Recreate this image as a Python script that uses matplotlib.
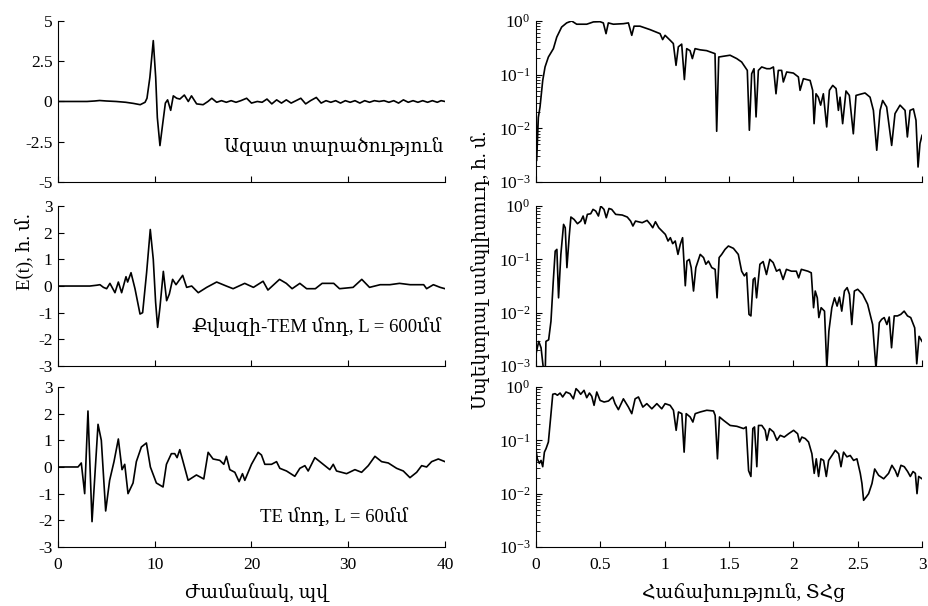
import matplotlib
matplotlib.use("Agg")
from matplotlib import pyplot as plt

plt.rcParams['font.family'] = ['Liberation Serif', 'DejaVu Serif', 'DejaVu Sans']
plt.rcParams['mathtext.fontset'] = 'stix'
plt.rcParams['axes.unicode_minus'] = False

# --- time domain, ps ---
t_free = [0, 3.0, 3.8, 4.3, 5.0, 6.0, 7.0, 7.8, 8.5, 9.0,
          9.2, 9.5, 9.85, 10.1, 10.27, 10.54, 10.8, 11.1, 11.33, 11.65,
          11.92, 12.27, 12.6, 13.06, 13.47, 13.8, 14.33, 15.0, 15.5, 15.9,
          16.4, 16.9, 17.4, 17.9, 18.4, 18.9, 19.5, 20.0, 20.6, 21.1,
          21.6, 22.1, 22.6, 23.1, 23.6, 24.1, 24.6, 25.1, 25.6, 26.1,
          26.7, 27.2, 27.7, 28.2, 28.7, 29.2, 29.7, 30.2, 30.7, 31.2,
          31.7, 32.2, 32.7, 33.2, 33.7, 34.2, 34.7, 35.2, 35.7, 36.2,
          36.7, 37.2, 37.7, 38.2, 38.7, 39.2, 39.6, 40]
e_free = [0, 0, 0.03, 0.06, 0.03, 0, -0.05, -0.12, -0.2, -0.05,
          0.2, 1.5, 3.78, 1.5, -1.0, -2.74, -1.5, -0.1, 0.1, -0.55,
          0.35, 0.2, 0.15, 0.4, 0.0, 0.35, -0.15, -0.2, 0.0, 0.2,
          -0.05, 0.05, -0.05, 0.05, -0.05, 0.05, 0.2, -0.1, 0.0, -0.05,
          0.15, -0.15, 0.1, -0.1, 0.1, -0.1, 0.05, 0.2, -0.15, 0.05,
          0.25, -0.1, 0.05, -0.05, 0.05, -0.1, 0.05, -0.05, 0.05, -0.1,
          0.05, -0.05, 0.05, 0.0, 0.05, -0.05, 0.05, -0.1, 0.1, -0.05,
          0.05, -0.05, 0.05, -0.05, 0.05, -0.05, 0.05, 0.0]

t_tem = [0, 3.3, 4.0, 4.34, 4.7, 5.03, 5.37, 5.89, 6.24, 6.58,
         7.03, 7.2, 7.55, 7.96, 8.48, 8.75, 9.16, 9.54, 9.85, 10.09,
         10.3, 10.54, 10.89, 11.23, 11.51, 11.85, 12.2, 12.89, 13.3, 13.82,
         14.5, 15.37, 16.4, 17.4, 18.1, 19.3, 20.2, 21.2, 21.7, 22.9,
         23.6, 24.2, 25.0, 25.7, 26.6, 27.3, 28.5, 29.1, 30.5, 31.4,
         32.2, 33.3, 34.3, 35.3, 36.4, 37.8, 38.1, 38.8, 39.5, 40]
e_tem = [0, 0, 0.03, 0.05, -0.05, -0.1, 0.1, -0.25, 0.15, -0.25,
         0.35, 0.15, 0.5, -0.1, -1.05, -1.0, 0.5, 2.12, 1.0, -0.6,
         -1.55, -0.8, 0.55, -0.55, -0.3, 0.25, 0.05, 0.4, -0.05, 0.0,
         -0.25, -0.05, 0.15, 0.0, -0.1, 0.1, -0.05, 0.18, -0.15, 0.25,
         0.1, -0.1, 0.1, -0.1, -0.1, 0.1, 0.1, -0.1, -0.05, 0.25,
         -0.05, 0.05, 0.05, 0.1, 0.05, 0.05, -0.1, 0.05, -0.05, -0.1]

t_te = [0, 2.07, 2.41, 2.76, 3.1, 3.52, 4.14, 4.48, 4.93, 5.34,
        5.79, 6.24, 6.62, 6.9, 7.24, 7.76, 8.1, 8.62, 9.14, 9.55,
        10.17, 10.86, 11.21, 11.72, 12.07, 12.31, 12.59, 12.93, 13.45, 14.31,
        15.07, 15.52, 16.03, 16.72, 17.14, 17.41, 17.76, 18.28, 18.72, 19.07,
        19.31, 20.0, 20.69, 21.03, 21.38, 22.07, 22.59, 22.93, 23.62, 24.48,
        25.0, 25.52, 25.86, 26.55, 27.24, 28.1, 28.45, 28.79, 29.83, 30.69,
        31.38, 32.07, 32.76, 33.45, 34.14, 35.0, 35.69, 36.38, 37.07, 37.59,
        38.1, 38.62, 39.31, 40]
e_te = [0, 0, 0.15, -1.0, 2.1, -2.05, 1.6, 1.0, -1.65, -0.5,
        0.2, 1.05, -0.1, 0.1, -1.0, -0.6, 0.2, 0.75, 0.9, 0.0,
        -0.6, -0.75, 0.1, 0.5, 0.5, 0.35, 0.65, 0.2, -0.5, -0.3,
        -0.45, 0.55, 0.3, 0.25, 0.1, 0.4, -0.1, -0.2, -0.55, -0.25,
        -0.5, 0.1, 0.55, 0.45, 0.1, 0.1, 0.2, -0.05, -0.15, -0.35,
        -0.05, 0.05, -0.15, 0.35, 0.15, -0.1, 0.1, -0.15, -0.25, -0.1,
        -0.2, 0.05, 0.4, 0.2, 0.15, -0.05, -0.15, -0.4, -0.2, 0.05,
        0.0, 0.2, 0.3, 0.2]

# --- spectra, THz ---
f_free = [0, 0.005, 0.018, 0.031, 0.052, 0.07, 0.096, 0.135, 0.161, 0.199,
          0.238, 0.277, 0.316, 0.394, 0.446, 0.497, 0.523, 0.544, 0.562, 0.601,
          0.679, 0.718, 0.744, 0.762, 0.808, 0.886, 0.964, 0.984, 1.003, 1.041,
          1.067, 1.088, 1.106, 1.132, 1.153, 1.171, 1.197, 1.215, 1.236, 1.275,
          1.326, 1.391, 1.404, 1.42, 1.456, 1.508, 1.56, 1.598, 1.624, 1.642,
          1.658, 1.676, 1.694, 1.71, 1.728, 1.754, 1.793, 1.819, 1.845, 1.865,
          1.883, 1.909, 1.922, 1.948, 2.0, 2.039, 2.052, 2.078, 2.13, 2.15,
          2.161, 2.176, 2.194, 2.212, 2.233, 2.259, 2.28, 2.306, 2.332, 2.35,
          2.363, 2.383, 2.409, 2.435, 2.466, 2.487, 2.518, 2.557, 2.596, 2.622,
          2.648, 2.674, 2.694, 2.725, 2.764, 2.79, 2.829, 2.868, 2.886, 2.907,
          2.933, 2.953, 2.969, 2.984, 3.0]
a_free = [0.033, 0.0025, 0.016, 0.025, 0.078, 0.139, 0.213, 0.305, 0.50, 0.77,
          0.92, 1.0, 0.87, 0.87, 0.96, 0.97, 0.92, 0.58, 0.92, 0.87,
          0.89, 0.92, 0.54, 0.80, 0.80, 0.69, 0.58, 0.45, 0.54, 0.44,
          0.38, 0.149, 0.33, 0.37, 0.081, 0.305, 0.28, 0.199, 0.305, 0.29,
          0.28, 0.246, 0.0088, 0.213, 0.22, 0.23, 0.199, 0.172, 0.139, 0.12,
          0.0092, 0.104, 0.129, 0.0163, 0.12, 0.139, 0.129, 0.129, 0.139, 0.044,
          0.12, 0.12, 0.073, 0.112, 0.107, 0.0905, 0.051, 0.084, 0.078, 0.051,
          0.0122, 0.044, 0.038, 0.027, 0.044, 0.0106, 0.051, 0.063, 0.055, 0.0216,
          0.038, 0.0122, 0.0496, 0.041, 0.0079, 0.041, 0.043, 0.0455, 0.038, 0.0216,
          0.0039, 0.0216, 0.033, 0.025, 0.0048, 0.0188, 0.027, 0.0216, 0.0069, 0.0216,
          0.023, 0.0141, 0.0019, 0.0052, 0.0074]

f_tem = [0, 0.021, 0.039, 0.057, 0.072, 0.077, 0.098, 0.116, 0.134, 0.149,
         0.162, 0.175, 0.193, 0.214, 0.227, 0.24, 0.258, 0.271, 0.296, 0.322,
         0.348, 0.366, 0.381, 0.399, 0.425, 0.443, 0.464, 0.485, 0.503, 0.528,
         0.546, 0.567, 0.588, 0.619, 0.67, 0.709, 0.735, 0.753, 0.773, 0.825,
         0.863, 0.889, 0.907, 0.928, 0.954, 0.979, 1.005, 1.026, 1.044, 1.062,
         1.082, 1.103, 1.121, 1.139, 1.16, 1.173, 1.191, 1.206, 1.224, 1.242,
         1.276, 1.302, 1.32, 1.34, 1.366, 1.392, 1.407, 1.423, 1.443, 1.469,
         1.495, 1.534, 1.572, 1.598, 1.619, 1.637, 1.655, 1.67, 1.688, 1.701,
         1.714, 1.74, 1.765, 1.791, 1.817, 1.843, 1.869, 1.894, 1.92, 1.946,
         1.985, 2.023, 2.041, 2.062, 2.113, 2.139, 2.157, 2.17, 2.186, 2.198,
         2.216, 2.242, 2.26, 2.276, 2.299, 2.32, 2.34, 2.358, 2.376, 2.397,
         2.418, 2.436, 2.454, 2.474, 2.5, 2.539, 2.577, 2.616, 2.642, 2.668,
         2.686, 2.706, 2.727, 2.745, 2.763, 2.784, 2.809, 2.835, 2.861, 2.887,
         2.912, 2.943, 2.959, 2.977, 3.0]
a_tem = [0.0017, 0.0029, 0.0022, 0.0009, 0.0009, 0.0029, 0.0031, 0.0069, 0.039, 0.143,
         0.154, 0.019, 0.124, 0.453, 0.392, 0.07, 0.274, 0.622, 0.56, 0.466,
         0.523, 0.65, 0.466, 0.698, 0.718, 0.866, 0.806, 0.65, 1.0, 0.866,
         0.604, 0.90, 0.866, 0.698, 0.678, 0.622, 0.523, 0.422, 0.523, 0.487,
         0.538, 0.453, 0.392, 0.508, 0.392, 0.34, 0.294, 0.221, 0.255, 0.197,
         0.221, 0.124, 0.191, 0.255, 0.032, 0.093, 0.1, 0.07, 0.0255, 0.07,
         0.124, 0.108, 0.081, 0.093, 0.07, 0.065, 0.019, 0.108, 0.124, 0.154,
         0.178, 0.161, 0.124, 0.06, 0.049, 0.056, 0.0093, 0.0087, 0.042, 0.045,
         0.019, 0.081, 0.091, 0.052, 0.1, 0.087, 0.06, 0.065, 0.042, 0.065,
         0.06, 0.06, 0.045, 0.065, 0.06, 0.056, 0.0124, 0.0255, 0.019, 0.0081,
         0.0124, 0.0107, 0.0009, 0.0045, 0.0124, 0.019, 0.0133, 0.0196, 0.0107, 0.0255,
         0.0295, 0.022, 0.006, 0.0255, 0.0275, 0.022, 0.0144, 0.006, 0.0009, 0.0065,
         0.0075, 0.0081, 0.006, 0.0083, 0.0022, 0.0087, 0.0087, 0.0093, 0.0107, 0.0087,
         0.0081, 0.0052, 0.0011, 0.0036, 0.0029]

f_te = [0, 0.01, 0.026, 0.039, 0.052, 0.065, 0.078, 0.096, 0.114, 0.13,
        0.148, 0.166, 0.187, 0.207, 0.233, 0.264, 0.29, 0.311, 0.329, 0.347,
        0.373, 0.394, 0.415, 0.433, 0.451, 0.472, 0.498, 0.529, 0.563, 0.596,
        0.614, 0.64, 0.679, 0.718, 0.744, 0.77, 0.796, 0.83, 0.861, 0.9,
        0.939, 0.977, 1.003, 1.042, 1.068, 1.089, 1.107, 1.133, 1.151, 1.167,
        1.198, 1.219, 1.237, 1.276, 1.327, 1.379, 1.392, 1.41, 1.426, 1.457,
        1.509, 1.561, 1.613, 1.633, 1.652, 1.67, 1.685, 1.698, 1.716, 1.729,
        1.755, 1.781, 1.794, 1.815, 1.846, 1.872, 1.898, 1.929, 1.963, 2.002,
        2.033, 2.048, 2.066, 2.092, 2.118, 2.144, 2.162, 2.178, 2.196, 2.214,
        2.235, 2.256, 2.274, 2.3, 2.326, 2.352, 2.37, 2.39, 2.416, 2.442,
        2.468, 2.494, 2.52, 2.533, 2.546, 2.567, 2.585, 2.611, 2.632, 2.663,
        2.702, 2.74, 2.766, 2.792, 2.81, 2.836, 2.862, 2.888, 2.909, 2.93,
        2.948, 2.961, 2.974, 3.0]
a_te = [0.065, 0.045, 0.037, 0.042, 0.032, 0.06, 0.07, 0.093, 0.274, 0.73,
        0.75, 0.70, 0.77, 0.65, 0.806, 0.75, 0.60, 0.93, 0.84, 0.73,
        0.866, 0.63, 0.77, 0.67, 0.453, 0.806, 0.56, 0.523, 0.546, 0.65,
        0.487, 0.376, 0.60, 0.42, 0.316, 0.60, 0.65, 0.42, 0.487, 0.39,
        0.487, 0.39, 0.487, 0.453, 0.366, 0.154, 0.34, 0.316, 0.06, 0.316,
        0.274, 0.22, 0.316, 0.34, 0.366, 0.355, 0.294, 0.045, 0.274, 0.237,
        0.19, 0.183, 0.166, 0.178, 0.027, 0.021, 0.166, 0.178, 0.032, 0.19,
        0.19, 0.154, 0.1, 0.166, 0.143, 0.1, 0.124, 0.115, 0.133, 0.154,
        0.133, 0.093, 0.115, 0.108, 0.093, 0.056, 0.024, 0.045, 0.021, 0.045,
        0.042, 0.021, 0.042, 0.052, 0.065, 0.056, 0.032, 0.06, 0.049, 0.052,
        0.042, 0.045, 0.024, 0.0155, 0.0075, 0.0087, 0.01, 0.0155, 0.029, 0.022,
        0.019, 0.024, 0.034, 0.027, 0.021, 0.034, 0.032, 0.026, 0.021, 0.026,
        0.024, 0.01, 0.021, 0.019]

labels = ["Ազատ տարածություն", "Քվազի-TEM մոդ, L = 600մմ", "TE մոդ, L = 60մմ"]
label_pos = [(0.995, 0.22, 'right'), (0.99, 0.245, 'right'), (0.905, 0.19, 'right')]
y_lims = [(-5, 5), (-3, 3), (-3, 3)]
y_ticks = [[-5, -2.5, 0, 2.5, 5], [-3, -2, -1, 0, 1, 2, 3], [-3, -2, -1, 0, 1, 2, 3]]
y_ticklabels = [["-5", "-2.5", "0", "2.5", "5"],
                ["-3", "-2", "-1", "0", "1", "2", "3"],
                ["-3", "-2", "-1", "0", "1", "2", "3"]]
t_ticks = [0, 10, 20, 30, 40]
f_ticks = [0, 0.5, 1, 1.5, 2, 2.5, 3]
f_ticklabels = ["0", "0.5", "1", "1.5", "2", "2.5", "3"]

time_series = [(t_free, e_free), (t_tem, e_tem), (t_te, e_te)]
spectra = [(f_free, a_free), (f_tem, a_tem), (f_te, a_te)]

fig = plt.figure(figsize=(9.29, 6.06), dpi=100)
bottoms = [0.6997, 0.396, 0.0974]
heights = [0.2657, 0.264, 0.264]
fs = 12.5


def style(ax):
    ax.spines['top'].set_visible(False)
    ax.spines['right'].set_visible(False)
    ax.tick_params(direction='in', length=4, width=0.8, labelsize=fs)
    ax.tick_params(which='minor', direction='in', length=3, width=0.6)
    ax.tick_params(axis='y', pad=4)
    ax.tick_params(axis='x', pad=7)


for i in range(3):
    ax = fig.add_axes([0.0624, bottoms[i], 0.4166, heights[i]])
    t, e = time_series[i]
    ax.plot(t, e, color='black', lw=1.2)
    ax.set_xlim(0, 40)
    ax.set_ylim(*y_lims[i])
    ax.set_yticks(y_ticks[i])
    ax.set_yticklabels(y_ticklabels[i])
    ax.set_xticks(t_ticks)
    style(ax)
    if i < 2:
        ax.set_xticklabels([])
    x, y, ha = label_pos[i]
    ax.text(x, y, labels[i], transform=ax.transAxes, ha=ha, va='center', fontsize=13.5)

    ax2 = fig.add_axes([0.577, bottoms[i], 0.4155, heights[i]])
    f, a = spectra[i]
    ax2.semilogy(f, a, color='black', lw=1.2)
    ax2.set_xlim(0, 3)
    ax2.set_ylim(1e-3, 1)
    ax2.set_yticks([1e-3, 1e-2, 1e-1, 1])
    ax2.set_xticks(f_ticks)
    style(ax2)
    ax2.tick_params(axis='x', which='minor', bottom=False)
    if i < 2:
        ax2.set_xticklabels([])
    else:
        ax2.set_xticklabels(f_ticklabels)

fig.text(0.026, 0.585, "E(t), հ. մ.", rotation=90, ha='center', va='center', fontsize=13.5)
fig.text(0.517, 0.554, "Սպեկտրալ ամպլիտուդ, հ. մ.", rotation=90, ha='center', va='center', fontsize=13.5)
fig.text(0.276, 0.023, "Ժամանակ, պվ", ha='center', va='center', fontsize=13.5)
fig.text(0.80, 0.023, "Հաճախություն, ՏՀց", ha='center', va='center', fontsize=13.5)

plt.savefig("out.png", dpi=100)
